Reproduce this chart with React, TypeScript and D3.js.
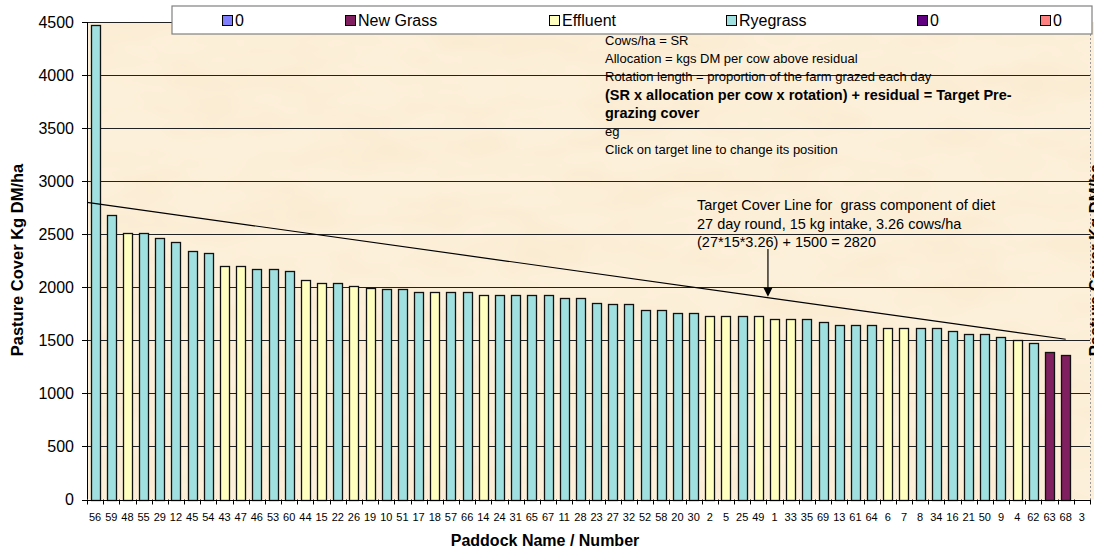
import React from 'react';
import * as d3 from 'd3';

// paddocks in ranked order (highest cover first)
const paddocks = [
  '56', '59', '48', '55', '29', '12', '45', '54', '43', '47',
  '46', '53', '60', '44', '15', '22', '26', '19', '10', '51',
  '17', '18', '57', '66', '14', '24', '31', '65', '67', '11',
  '28', '23', '27', '32', '52', '58', '20', '30', '2', '5',
  '25', '49', '1', '33', '35', '69', '13', '61', '64', '6',
  '7', '8', '34', '16', '21', '50', '9', '4', '62', '63',
  '68', '3',
];

const cover = [
  4470, 2680, 2510, 2510, 2460, 2430, 2345, 2320, 2200, 2200,
  2175, 2175, 2150, 2065, 2040, 2040, 2010, 1995, 1980, 1980,
  1955, 1955, 1955, 1955, 1925, 1925, 1925, 1925, 1925, 1895,
  1895, 1855, 1845, 1845, 1785, 1785, 1760, 1760, 1730, 1730,
  1730, 1730, 1700, 1700, 1700, 1675, 1645, 1645, 1645, 1615,
  1615, 1615, 1615, 1585, 1560, 1560, 1530, 1505, 1475, 1390,
  1365, 0,
];

// R = Ryegrass, E = Effluent, N = New Grass
const pasture = [
  'R', 'R', 'E', 'R', 'R', 'R', 'R', 'R', 'E', 'E',
  'R', 'R', 'R', 'E', 'E', 'R', 'E', 'E', 'R', 'R',
  'R', 'E', 'R', 'R', 'E', 'R', 'R', 'R', 'R', 'R',
  'R', 'R', 'R', 'R', 'R', 'R', 'R', 'R', 'E', 'E',
  'R', 'E', 'E', 'E', 'R', 'R', 'R', 'R', 'R', 'E',
  'E', 'R', 'R', 'R', 'R', 'R', 'R', 'E', 'R', 'N',
  'N', 'R',
];

const pastureColor: Record<string, string> = { R: '#A0E0E0', E: '#FFFFC0', N: '#802060' };

const legendNames = ['0', 'New Grass', 'Effluent', 'Ryegrass', '0', '0'];
const legendColors = ['#8080FF', '#802060', '#FFFFC0', '#A0E0E0', '#600080', '#FF8080'];

const yTicks = [0, 500, 1000, 1500, 2000, 2500, 3000, 3500, 4000, 4500];

// target cover line: 2820 at the left axis falling to ~1510 at paddock 68
const targetStart = 2800;
const targetEnd = 1510;
const targetEndPaddock = '68';

const notes = [
  { t: 'Cows/ha = SR', b: false },
  { t: 'Allocation = kgs DM per cow above residual', b: false },
  { t: 'Rotation length = proportion of the farm grazed each day', b: false },
  { t: '(SR x allocation per cow x rotation) + residual = Target Pre-', b: true },
  { t: 'grazing cover', b: true },
  { t: 'eg', b: false },
  { t: 'Click on target line to change its position', b: false },
];

const targetNotes = [
  'Target Cover Line for  grass component of diet',
  '27 day round, 15 kg intake, 3.26 cows/ha',
  '(27*15*3.26) + 1500 = 2820',
];

const W = 1094, H = 552;
const left = 87, right = 1090, top = 22, bottom = 499.5;
const font = '"Liberation Sans", Arial, sans-serif';

export default function App() {
  const x = d3.scaleBand<string>().domain(paddocks).range([left, right]).paddingInner(0.44).paddingOuter(0.22);
  const y = d3.scaleLinear().domain([0, 4500]).range([bottom, top]);
  const step = x.step();

  const tx1 = left, ty1 = y(targetStart);
  const tx2 = (x(targetEndPaddock) as number) + x.bandwidth() / 2, ty2 = y(targetEnd);
  const lineAt = (px: number) => ty1 + (ty2 - ty1) * (px - tx1) / (tx2 - tx1);
  const ax = (x('1') as number) - (step - x.bandwidth()) / 2 + 1.5;
  const tipY = lineAt(ax) - 1;

  // legend item positions
  const legendX = [222, 345, 549, 726, 917, 1040];

  return (
    <svg width={W} height={H} style={{ position: 'absolute', left: 0, top: 0, background: '#fff' }} fontFamily={font}>
      <defs>
        <filter id="parch" x="0" y="0" width="100%" height="100%">
          <feTurbulence type="fractalNoise" baseFrequency="0.012 0.03" numOctaves={3} seed={7} />
          <feColorMatrix type="matrix" values="0 0 0 0 0.93  0 0 0 0 0.80  0 0 0 0 0.58  0 0 0 0.9 -0.32" />
        </filter>
      </defs>
      <rect x={left} y={top} width={right - left + 4} height={bottom - top} fill="#FDF0DA" />
      <rect x={left} y={top} width={right - left + 4} height={bottom - top} filter="url(#parch)" />

      {/* gridlines */}
      {yTicks.map(t => (
        <line key={'g' + t} x1={left} x2={right} y1={Math.round(y(t)) + 0.5} y2={Math.round(y(t)) + 0.5} stroke="#222" strokeWidth={1} />
      ))}

      {/* right (secondary) axis */}
      <line x1={right + 0.5} x2={right + 0.5} y1={top} y2={bottom} stroke="#999" strokeDasharray="2,2" />

      {/* bars */}
      {paddocks.map((p, i) => cover[i] > 0 && (
        <rect key={'b' + p} x={Math.round(x(p) as number) + 0.5} y={Math.round(y(cover[i])) + 0.5}
          width={Math.round(x.bandwidth())} height={Math.round(bottom) - Math.round(y(cover[i]))}
          fill={pastureColor[pasture[i]]} stroke="#111" strokeWidth={1.3} />
      ))}

      {/* y axis */}
      <line x1={left + 0.5} x2={left + 0.5} y1={top} y2={bottom} stroke="#000" />
      {yTicks.map(t => (
        <g key={'y' + t}>
          <line x1={left - 5} x2={left} y1={Math.round(y(t)) + 0.5} y2={Math.round(y(t)) + 0.5} stroke="#000" />
          <text x={left - 13} y={y(t) + 5.5} textAnchor="end" fontSize={16} fill="#000">{t}</text>
        </g>
      ))}

      {/* x axis */}
      <line x1={left} x2={right} y1={Math.round(bottom) + 0.5} y2={Math.round(bottom) + 0.5} stroke="#000" />
      {paddocks.map((p, i) => {
        const bx = Math.round(left + i * step) + 0.5;
        return <line key={'t' + p} x1={bx} x2={bx} y1={bottom} y2={bottom + 5} stroke="#000" />;
      })}
      <line x1={right + 0.5} x2={right + 0.5} y1={bottom} y2={bottom + 5} stroke="#000" />
      {paddocks.map(p => (
        <text key={'l' + p} x={(x(p) as number) + x.bandwidth() / 2} y={521} textAnchor="middle" fontSize={11} fill="#000">{p}</text>
      ))}

      {/* target line + arrow */}
      <line x1={tx1} y1={ty1} x2={tx2} y2={ty2} stroke="#000" strokeWidth={1.2} />
      <line x1={ax} x2={ax} y1={249} y2={tipY - 8} stroke="#000" strokeWidth={1.2} />
      <path d={`M${ax - 4.5},${tipY - 9} L${ax + 4.5},${tipY - 9} L${ax},${tipY} Z`} fill="#000" />

      {/* annotations */}
      {notes.map((n, i) => (
        <text key={'n' + i} x={605} y={45 + i * 18.2} fontSize={n.b ? 14.5 : 13} fontWeight={n.b ? 'bold' : 'normal'} fill="#000">{n.t}</text>
      ))}
      {targetNotes.map((t, i) => (
        <text key={'tn' + i} x={697} y={210 + i * 18.7} fontSize={14.5} fill="#000" style={{ whiteSpace: 'pre' }}>{t}</text>
      ))}

      {/* legend */}
      <rect x={172} y={6} width={W - 172 - 2} height={28} fill="#fff" stroke="#808080" strokeWidth={1.2} />
      {legendNames.map((n, i) => (
        <g key={'lg' + i}>
          <rect x={legendX[i] + 0.5} y={15.5} width={10} height={10} fill={legendColors[i]} stroke="#000" />
          <text x={legendX[i] + 13} y={26} fontSize={16} fill="#000">{n}</text>
        </g>
      ))}

      {/* axis titles */}
      <text transform={`translate(23,260) rotate(-90)`} textAnchor="middle" fontSize={16.5} fontWeight="bold" fill="#000">Pasture Cover Kg DM/ha</text>
      <text transform={`translate(1101,260) rotate(-90)`} textAnchor="middle" fontSize={16.5} fontWeight="bold" fill="#000">Pasture Cover Kg DM/ha</text>
      <text x={545} y={546} textAnchor="middle" fontSize={16} fontWeight="bold" fill="#000">Paddock Name / Number</text>
    </svg>
  );
}
